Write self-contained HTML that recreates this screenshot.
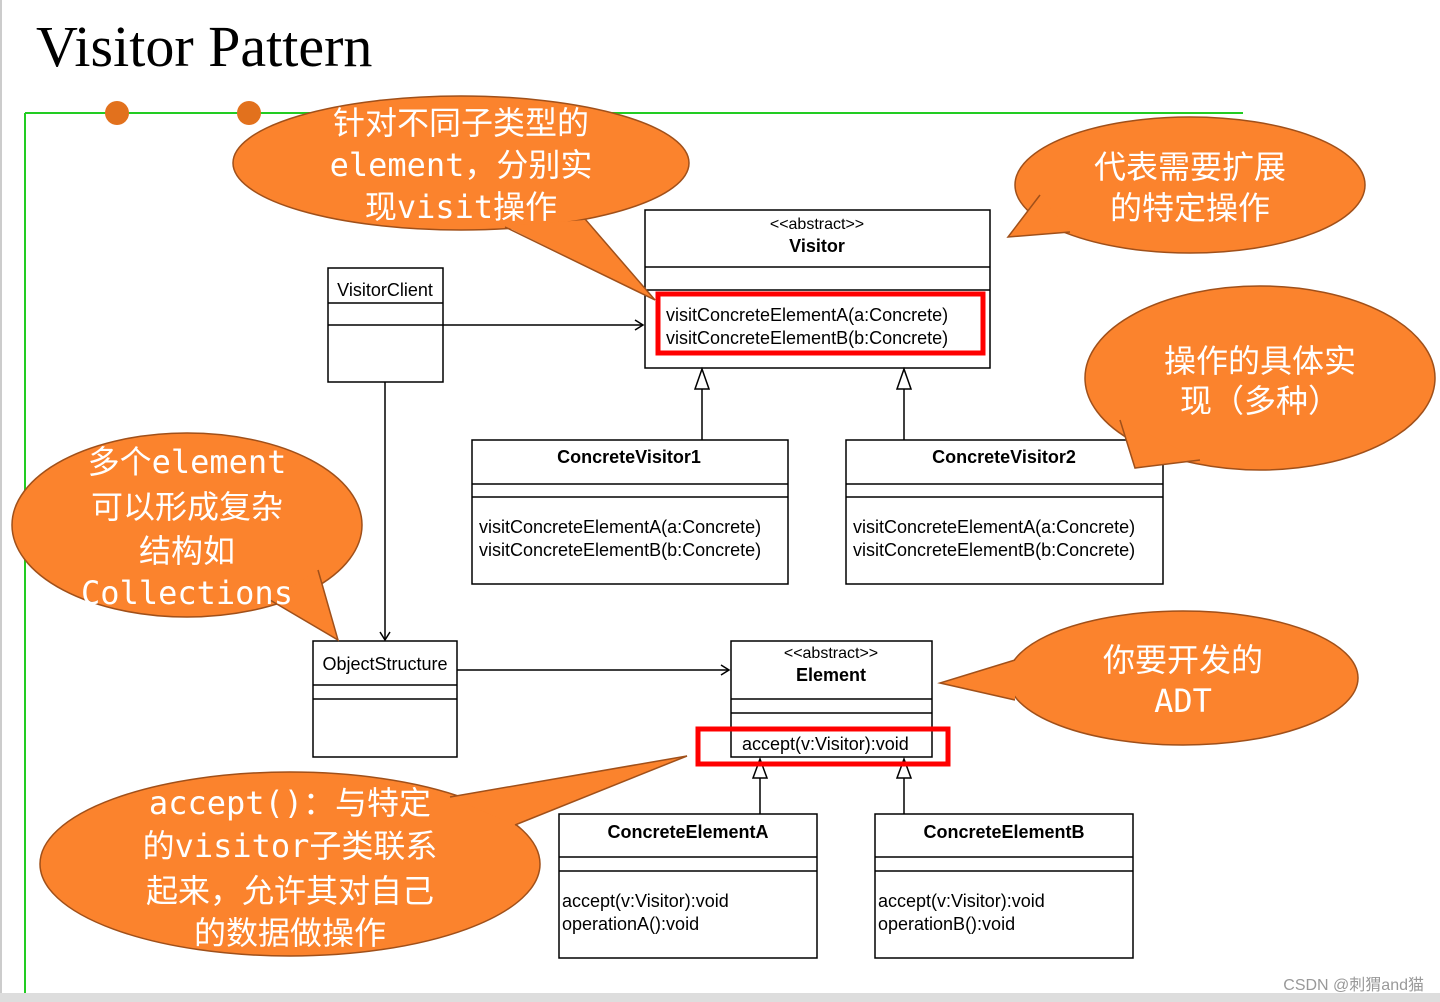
<!DOCTYPE html>
<html><head><meta charset="utf-8"><style>
html,body{margin:0;padding:0;background:#fff;}
svg{display:block}
.u{font-family:"Liberation Sans",Arial,sans-serif;font-size:18px;fill:#000}
.b{font-weight:bold}
.c{font-family:"DejaVu Sans Mono","Noto Sans CJK SC",monospace;font-size:32px;fill:#fff;text-anchor:middle}
</style></head><body>
<svg width="1440" height="1002" viewBox="0 0 1440 1002" xmlns="http://www.w3.org/2000/svg">
<rect x="0" y="0" width="1440" height="1002" fill="#fff"/>
<rect x="0" y="993" width="1440" height="9" fill="#ddd"/>
<line x1="1" y1="0" x2="1" y2="993" stroke="#ccc" stroke-width="2"/>
<text x="36" y="66" style="font-family:'Liberation Serif',serif;font-size:58px;fill:#000">Visitor Pattern</text>
<line x1="25" y1="113" x2="1243" y2="113" stroke="#2c2" stroke-width="2"/>
<line x1="25" y1="113" x2="25" y2="993" stroke="#2c2" stroke-width="2"/>
<ellipse cx="117" cy="113" rx="12" ry="12" fill="#e2711d"/>
<ellipse cx="249" cy="113" rx="12" ry="12" fill="#e2711d"/>

<g fill="none" stroke="#000" stroke-width="1.5">
<rect x="645" y="210" width="345" height="158" fill="#fff"/>
<line x1="645" y1="267" x2="990" y2="267"/><line x1="645" y1="290" x2="990" y2="290"/>
<rect x="328" y="268" width="115" height="114" fill="#fff"/>
<line x1="328" y1="303" x2="443" y2="303"/><line x1="328" y1="325" x2="443" y2="325"/>
<line x1="443" y1="325" x2="643" y2="325"/><polyline points="635,320 643,325 635,330"/>
<line x1="385" y1="382" x2="385" y2="640"/><polyline points="380,632 385,640 390,632"/>
<rect x="472" y="440" width="316" height="144" fill="#fff"/>
<line x1="472" y1="484" x2="788" y2="484"/><line x1="472" y1="497" x2="788" y2="497"/>
<rect x="846" y="440" width="317" height="144" fill="#fff"/>
<line x1="846" y1="484" x2="1163" y2="484"/><line x1="846" y1="497" x2="1163" y2="497"/>
<line x1="702" y1="440" x2="702" y2="389"/><polygon points="702,369 695,389 709,389" fill="#fff"/>
<line x1="904" y1="440" x2="904" y2="389"/><polygon points="904,369 897,389 911,389" fill="#fff"/>
<rect x="313" y="641" width="144" height="116" fill="#fff"/>
<line x1="313" y1="685" x2="457" y2="685"/><line x1="313" y1="699" x2="457" y2="699"/>
<line x1="457" y1="670" x2="729" y2="670"/><polyline points="721,665 729,670 721,675"/>
<rect x="731" y="641" width="201" height="116" fill="#fff"/>
<line x1="731" y1="699" x2="932" y2="699"/><line x1="731" y1="713" x2="932" y2="713"/>
<rect x="559" y="814" width="258" height="144" fill="#fff"/>
<line x1="559" y1="857" x2="817" y2="857"/><line x1="559" y1="871" x2="817" y2="871"/>
<rect x="875" y="814" width="258" height="144" fill="#fff"/>
<line x1="875" y1="857" x2="1133" y2="857"/><line x1="875" y1="871" x2="1133" y2="871"/>
<line x1="760" y1="814" x2="760" y2="778"/><polygon points="760,759 753,778 767,778" fill="#fff"/>
<line x1="904" y1="814" x2="904" y2="778"/><polygon points="904,759 897,778 911,778" fill="#fff"/>
</g>
<rect x="658" y="294" width="325" height="59" fill="none" stroke="#f00" stroke-width="5"/>
<rect x="698" y="729" width="250" height="35" fill="none" stroke="#f00" stroke-width="5"/>

<text class="u" x="817" y="229" text-anchor="middle" style="font-size:16px">&lt;&lt;abstract&gt;&gt;</text>
<text class="u b" x="817" y="252" text-anchor="middle">Visitor</text>
<text class="u" x="666" y="321">visitConcreteElementA(a:Concrete)</text>
<text class="u" x="666" y="344">visitConcreteElementB(b:Concrete)</text>
<text class="u" x="385" y="296" text-anchor="middle">VisitorClient</text>
<text class="u b" x="629" y="463" text-anchor="middle">ConcreteVisitor1</text>
<text class="u" x="479" y="533">visitConcreteElementA(a:Concrete)</text>
<text class="u" x="479" y="556">visitConcreteElementB(b:Concrete)</text>
<text class="u b" x="1004" y="463" text-anchor="middle">ConcreteVisitor2</text>
<text class="u" x="853" y="533">visitConcreteElementA(a:Concrete)</text>
<text class="u" x="853" y="556">visitConcreteElementB(b:Concrete)</text>
<text class="u" x="385" y="670" text-anchor="middle">ObjectStructure</text>
<text class="u" x="831" y="658" text-anchor="middle" style="font-size:16px">&lt;&lt;abstract&gt;&gt;</text>
<text class="u b" x="831" y="681" text-anchor="middle">Element</text>
<text class="u" x="742" y="750">accept(v:Visitor):void</text>
<text class="u b" x="688" y="838" text-anchor="middle">ConcreteElementA</text>
<text class="u" x="562" y="907">accept(v:Visitor):void</text>
<text class="u" x="562" y="930">operationA():void</text>
<text class="u b" x="1004" y="838" text-anchor="middle">ConcreteElementB</text>
<text class="u" x="878" y="907">accept(v:Visitor):void</text>
<text class="u" x="878" y="930">operationB():void</text>

<g fill="#fb832d" stroke="#a0501a" stroke-width="1.5">
<ellipse cx="461" cy="163" rx="228" ry="67"/>
<polygon points="505,226 655,300 585,220" stroke="none"/>
<polyline points="505,227 655,300 585,219" fill="none"/>
<ellipse cx="1190" cy="185" rx="175" ry="68"/>
<polygon points="1040,195 1008,237 1070,232" stroke="none"/>
<polyline points="1040,195 1008,237 1070,232" fill="none"/>
<ellipse cx="1260" cy="378" rx="175" ry="92"/>
<polygon points="1120,420 1135,468 1200,460" stroke="none"/>
<polyline points="1120,420 1135,468 1200,460" fill="none"/>
<ellipse cx="187" cy="525" rx="175" ry="92"/>
<polygon points="270,600 338,640 318,570" stroke="none"/>
<polyline points="270,600 338,640 318,570" fill="none"/>
<ellipse cx="1183" cy="678" rx="175" ry="67"/>
<polygon points="1015,660 940,683 1015,700" stroke="none"/>
<polyline points="1015,660 940,683 1015,700" fill="none"/>
<ellipse cx="290" cy="864" rx="250" ry="92"/>
<polygon points="450,797 687,756 515,825" stroke="none"/>
<polyline points="450,797 687,756 515,825" fill="none"/>
</g>

<text class="c" x="461" y="134">针对不同子类型的</text>
<text class="c" x="461" y="176">element，分别实</text>
<text class="c" x="461" y="218">现visit操作</text>
<text class="c" x="1190" y="178">代表需要扩展</text>
<text class="c" x="1190" y="219">的特定操作</text>
<text class="c" x="1260" y="372">操作的具体实</text>
<text class="c" x="1260" y="412">现（多种）</text>
<text class="c" x="187" y="473">多个element</text>
<text class="c" x="187" y="518">可以形成复杂</text>
<text class="c" x="187" y="562">结构如</text>
<text class="c" x="187" y="604">Collections</text>
<text class="c" x="1183" y="671">你要开发的</text>
<text class="c" x="1183" y="712">ADT</text>
<text class="c" x="290" y="814">accept()：与特定</text>
<text class="c" x="290" y="857">的visitor子类联系</text>
<text class="c" x="290" y="902">起来，允许其对自己</text>
<text class="c" x="290" y="944">的数据做操作</text>

<text x="1424" y="990" text-anchor="end" style="font-family:'Liberation Sans','Noto Sans CJK SC',sans-serif;font-size:16px;fill:#999">CSDN @刺猬and猫</text>
</svg>
</body></html>
